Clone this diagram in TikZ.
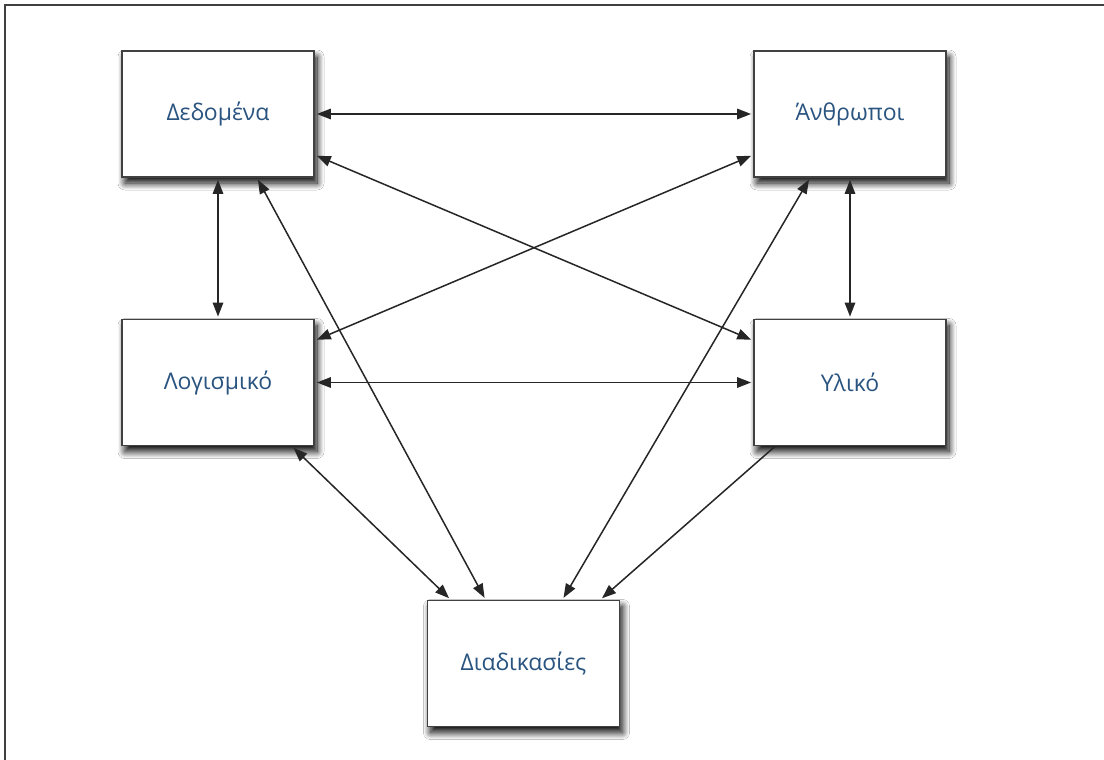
\documentclass[tikz,border=0pt]{standalone}
\usepackage{fontspec}
\setmainfont{Open Sans}
\usetikzlibrary{arrows.meta,shadows.blur,calc}
\definecolor{txtblue}{RGB}{42,84,128}
\definecolor{boxline}{RGB}{65,65,65}
\tikzset{
  box/.style={draw=boxline, line width=1.8pt, fill=white, minimum width=192pt, minimum height=126pt,
    inner sep=0pt, font=\fontsize{23}{26}\selectfont, text=txtblue,
    blur shadow={shadow xshift=3pt, shadow yshift=-6pt, shadow blur radius=7pt, shadow blur steps=14, shadow opacity=100}},
  conn/.style={line width=1.5pt, draw=black!85, {Triangle[length=14pt,width=10.5pt]}-{Triangle[length=14pt,width=10.5pt]}, shorten <=2pt, shorten >=2pt},
  oneway/.style={line width=1.5pt, draw=black!85, -{Triangle[length=14pt,width=10.5pt]}, shorten >=2pt}
}
\begin{document}
\begin{tikzpicture}[x=1pt,y=-1pt]
\useasboundingbox (0,0) rectangle (1104,760);
\fill[white] (0,0) rectangle (1104,760);
\draw[line width=1.8pt, draw=black!75] (5,760) -- (5,5) -- (1104,5);
\node[box] (D) at (218,114) {Δεδομένα};
\node[box] (A) at (850,114) {Άνθρωποι};
\node[box] (L) at (218,382.5) {Λογισμικό};
\node[box] (Y) at (850,382.5) {Υλικό};
\node[box] (P) at (523.5,663.5) {Διαδικασίες};
\draw[conn] (D.east) -- (A.west);
\draw[conn] ([yshift=-41pt]D.east) -- ([yshift=42pt]Y.west);
\draw[conn] ([yshift=-41pt]A.west) -- ([yshift=42pt]L.west -| L.east);
\draw[conn] (D.south) -- (L.north);
\draw[conn] (A.south) -- (Y.north);
\draw[conn] (L.east) -- (Y.west);
\draw[conn] ([xshift=39pt]D.south) -- ([xshift=-38pt]P.north);
\draw[conn] ([xshift=-40pt]A.south) -- ([xshift=39pt]P.north);
\draw[conn] ([xshift=74pt]L.south) -- ([xshift=-73pt]P.north);
\draw[oneway] ([xshift=-75pt]Y.south) -- ([xshift=77pt]P.north);
\end{tikzpicture}
\end{document}
